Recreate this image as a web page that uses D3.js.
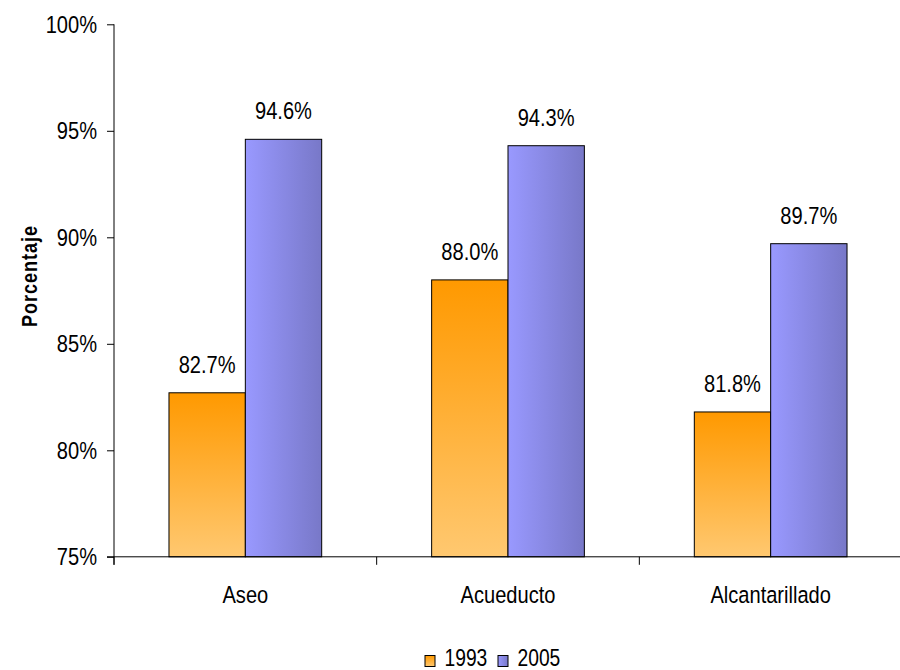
<!DOCTYPE html>
<html><head><meta charset="utf-8">
<script src="https://cdn.jsdelivr.net/npm/d3@7"></script>
<style>body{margin:0;background:#fff}text{font-family:"Liberation Sans",Arial,sans-serif}</style>
</head><body><svg id="c" width="900" height="670"></svg>
<script>
const categories = ["Aseo","Acueducto","Alcantarillado"];
const seriesNames = ["1993","2005"];
const values1993 = [82.7, 88.0, 81.8];
const values2005 = [94.6, 94.3, 89.7];
const yTicks = [75,80,85,90,95,100];

const SX = 0.82; // narrow-font look
const svg = d3.select("#c");
const m = {l:114, r:902, t:24.3, b:556.8};
const x = d3.scaleBand().domain(categories).range([m.l, m.r]).paddingInner(0).paddingOuter(0);
const y = d3.scaleLinear().domain([75,100]).range([m.b, m.t]);
const inner = d3.scaleBand().domain(seriesNames).range([0, x.bandwidth()]).paddingInner(0).paddingOuter(0.72);

function narrowText(parent, tx, ty, str, size, anchor, extra) {
  return parent.append("text")
    .attr("transform", `translate(${tx},${ty})${extra||""} scale(${SX},1)`)
    .attr("text-anchor", anchor || "start")
    .style("font-size", size + "px").attr("fill", "#000").text(str);
}

const defs = svg.append("defs");
const go = defs.append("linearGradient").attr("id","gOr").attr("x1",0).attr("y1",0).attr("x2",0).attr("y2",1);
go.append("stop").attr("offset","0%").attr("stop-color","#FF9900");
go.append("stop").attr("offset","100%").attr("stop-color","#FFC870");
const gb = defs.append("linearGradient").attr("id","gBl").attr("x1",0).attr("y1",0).attr("x2",1).attr("y2",0);
gb.append("stop").attr("offset","0%").attr("stop-color","#9999FF");
gb.append("stop").attr("offset","100%").attr("stop-color","#7878C8");
const fills = {"1993":"url(#gOr)","2005":"url(#gBl)"};

const data = [];
categories.forEach((c,i)=>{
  data.push({c, s:"1993", v:values1993[i]});
  data.push({c, s:"2005", v:values2005[i]});
});

// y axis
const ya = svg.append("g").attr("transform",`translate(${m.l},0)`)
  .call(d3.axisLeft(y).tickValues(yTicks).tickSize(7).tickPadding(10).tickFormat(d=>d+"%"));
ya.selectAll("text").style("font-size","24.5px").attr("fill","#000")
  .attr("x",0).attr("transform",`translate(-17,0) scale(${SX},1)`);
ya.selectAll("line,path").attr("stroke","#000");
ya.select(".domain").attr("d",`M0,${m.b+8}V${m.t}`);

// bars
svg.selectAll("rect.bar").data(data).join("rect").attr("class","bar")
  .attr("x",d=>x(d.c)+inner(d.s)).attr("width",inner.bandwidth())
  .attr("y",d=>y(d.v)).attr("height",d=>y(75)-y(d.v))
  .attr("fill",d=>fills[d.s]).attr("stroke","#000").attr("stroke-width",1);

// value labels
const lblG = svg.append("g");
data.forEach(d=>{
  narrowText(lblG, x(d.c)+inner(d.s)+inner.bandwidth()/2, y(d.v)-20, d.v.toFixed(1)+"%", 24.5, "middle");
});

// x axis
const xa = svg.append("g").attr("transform",`translate(0,${m.b})`);
xa.append("line").attr("x1",m.l-7).attr("x2",m.r).attr("y1",0).attr("y2",0).attr("stroke","#000");
const bounds = categories.map(c=>x(c)).concat([m.r]);
xa.selectAll("line.tk").data(bounds).join("line").attr("class","tk")
  .attr("x1",d=>d).attr("x2",d=>d).attr("y1",0).attr("y2",8).attr("stroke","#000");
categories.forEach(c=>{
  narrowText(xa, x(c)+x.bandwidth()/2, 46.5, c, 24.5, "middle");
});

// y title
narrowText(svg, 37, 276, "Porcentaje", 22, "middle", " rotate(-90)")
  .style("font-weight","bold").style("letter-spacing","1.2px");

// legend
const lg = svg.append("g");
const lx = [425, 498];
seriesNames.forEach((s,i)=>{
  lg.append("rect").attr("x",lx[i]).attr("y",655.5).attr("width",10).attr("height",11)
    .attr("fill",fills[s]).attr("stroke","#000");
  narrowText(lg, lx[i]+19.5, 666, s, 23.5, "start");
});
</script></body></html>
